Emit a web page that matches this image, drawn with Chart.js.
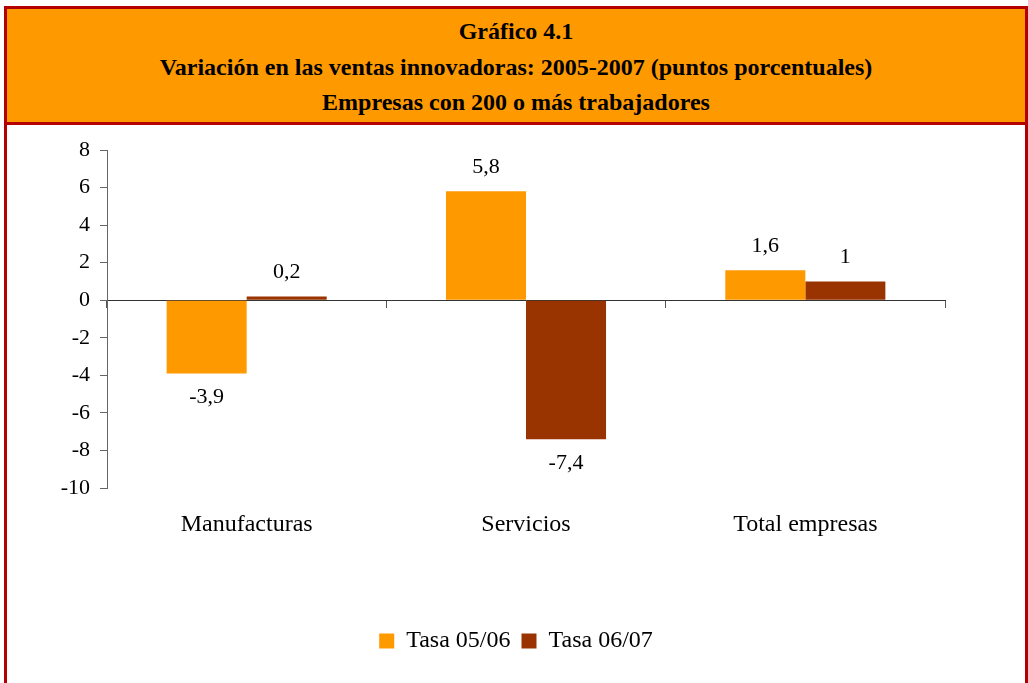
<!DOCTYPE html>
<html>
<head>
<meta charset="utf-8">
<script src="https://cdn.jsdelivr.net/npm/chart.js@4.4.1/dist/chart.umd.min.js"></script>
<style>
  html, body { margin: 0; padding: 0; background: #fff; overflow: hidden; }
  #frame {
    position: absolute; left: 4px; top: 6px;
    width: 1018px; height: 700px;
    border: 3px solid #B30000; border-bottom: none;
  }
  #header {
    height: 116px; box-sizing: border-box;
    background: #FF9900; border-bottom: 3px solid #B30000;
    padding-top: 5px;
    text-align: center;
    font: bold 24px "Liberation Serif", "Times New Roman", serif;
    line-height: 35.5px; color: #000;
  }
  #chartBox { position: relative; width: 1018px; height: 558px; }
</style>
</head>
<body>
<div id="frame">
  <div id="header">
    <div>Gráfico 4.1</div>
    <div>Variación en las ventas innovadoras: 2005-2007 (puntos porcentuales)</div>
    <div>Empresas con 200 o más trabajadores</div>
  </div>
  <div id="chartBox"><canvas id="chartVentas"></canvas></div>
</div>
<script>
// datos del gráfico
const categories = ['Manufacturas', 'Servicios', 'Total empresas'];
const tasa0506 = [-3.9, 5.8, 1.6];
const tasa0607 = [0.2, -7.4, 1.0];
const seriesNames = ['Tasa 05/06', 'Tasa 06/07'];
const yMin = -10;
const yMax = 8;
const yStep = 2;

const serif = '"Liberation Serif", "Times New Roman", serif';

// etiquetas de valor encima / debajo de cada barra
const valueLabels = {
  id: 'valueLabels',
  afterDatasetsDraw(chart) {
    const ctx = chart.ctx;
    ctx.save();
    ctx.font = '22px ' + serif;
    ctx.fillStyle = '#000';
    ctx.textAlign = 'center';
    ctx.textBaseline = 'middle';
    chart.data.datasets.forEach((ds, di) => {
      chart.getDatasetMeta(di).data.forEach((bar, i) => {
        const v = ds.data[i];
        const y = v >= 0 ? bar.y - 24 : bar.y + 24;
        ctx.fillText(String(v).replace('.', ','), bar.x, y);
      });
    });
    ctx.restore();
  }
};

const ctx = document.getElementById('chartVentas');
new Chart(ctx, {
  type: 'bar',
  data: {
    labels: categories,
    datasets: [
      { label: seriesNames[0], data: tasa0506, backgroundColor: '#FF9900' },
      { label: seriesNames[1], data: tasa0607, backgroundColor: '#993300' }
    ]
  },
  options: {
    responsive: true,
    maintainAspectRatio: false,
    animation: false,
    categoryPercentage: 0.573,
    barPercentage: 1,
    layout: { padding: { top: 25, left: 0, right: 0, bottom: 20 } },
    plugins: {
      tooltip: { enabled: false },
      legend: {
        position: 'bottom',
        labels: {
          boxWidth: 15,
          boxHeight: 15,
          padding: 11,
          color: '#000',
          font: { family: serif, size: 24 }
        }
      }
    },
    scales: {
      x: {
        position: 'bottom',
        grid: { display: false, drawTicks: false },
        border: { display: false },
        ticks: { color: '#000', padding: 22, font: { family: serif, size: 24 } },
        afterFit: s => { s.height = 130; }
      },
      // eje en el cero con las marcas entre categorías
      x2: {
        type: 'category',
        labels: categories,
        position: { y: 0 },
        grid: { display: true, offset: true, drawOnChartArea: false, tickLength: 7, color: '#555' },
        border: { display: true, color: '#333', width: 1 },
        ticks: { display: false }
      },
      y: {
        min: yMin,
        max: yMax,
        ticks: {
          stepSize: yStep,
          color: '#000',
          padding: 10,
          font: { family: serif, size: 22 },
          callback: v => String(v)
        },
        grid: { drawOnChartArea: false, tickLength: 7, color: '#666' },
        border: { color: '#666' },
        afterFit: s => { s.width = 100; }
      },
      // eje vacío a la derecha: deja el margen sin descentrar la leyenda
      yRight: {
        axis: 'y',
        position: 'right',
        min: yMin,
        max: yMax,
        grid: { display: false, drawTicks: false },
        border: { display: false },
        ticks: { display: false },
        afterFit: s => { s.width = 80; }
      }
    }
  },
  plugins: [valueLabels]
});
</script>
</body>
</html>
